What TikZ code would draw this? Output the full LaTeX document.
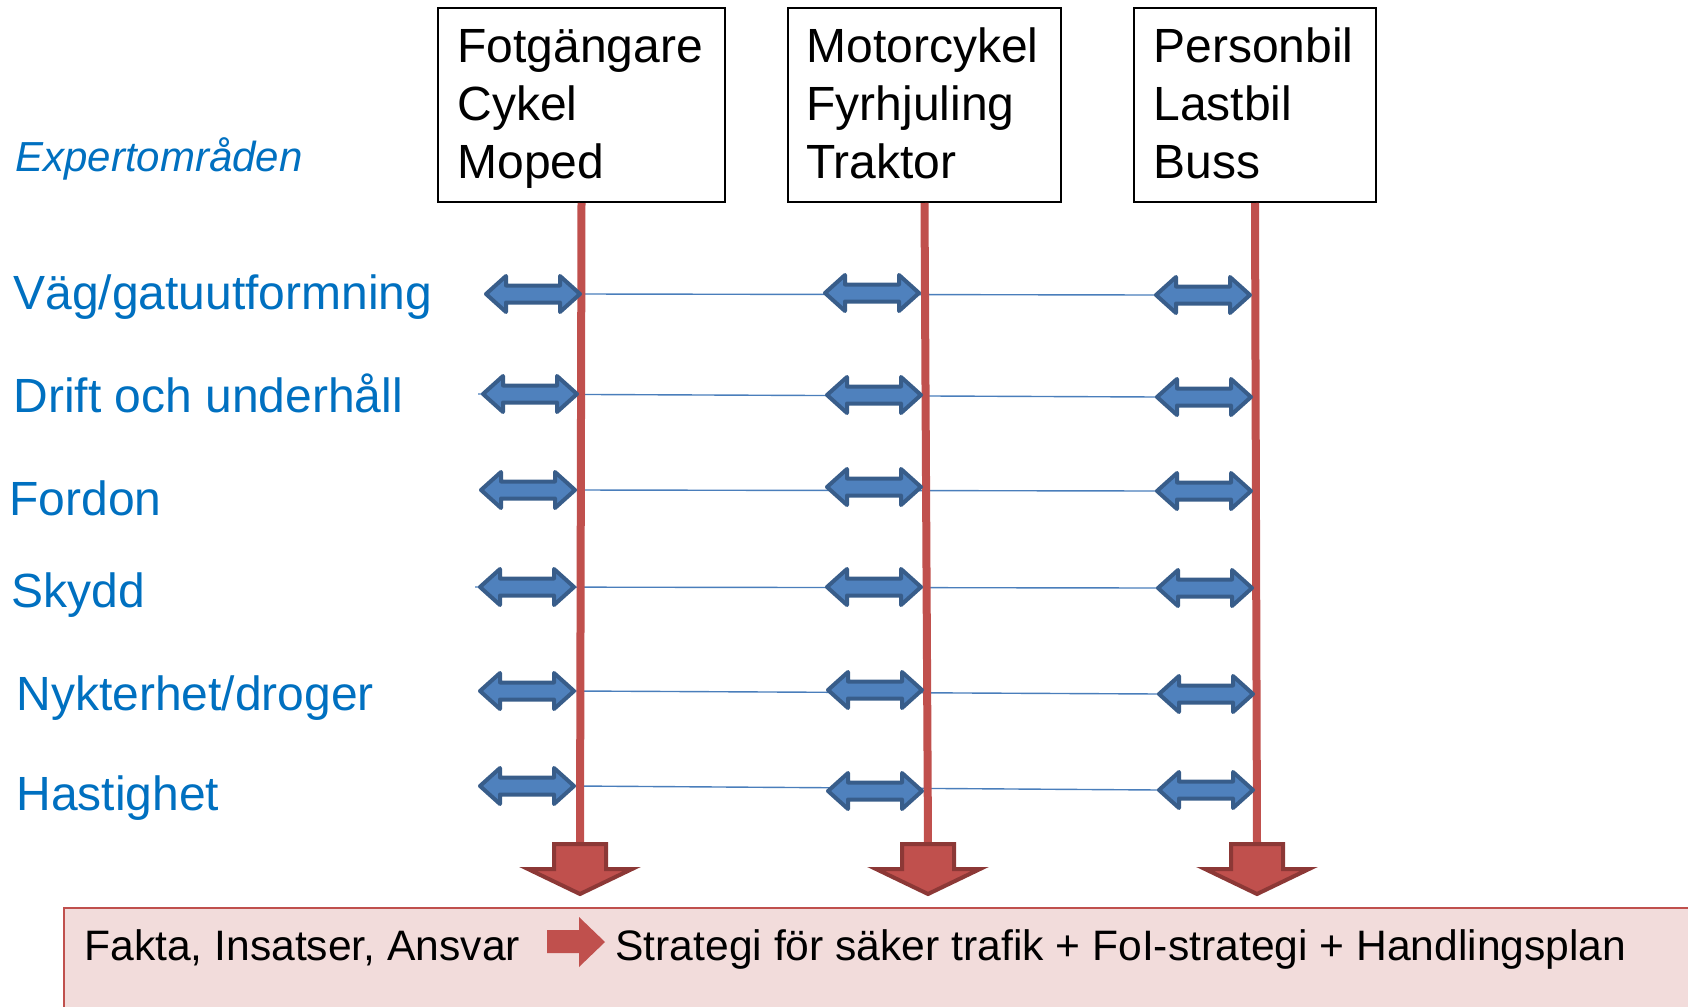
\documentclass[tikz,border=0pt]{standalone}
\usepackage{fontspec}
\setmainfont{Liberation Sans}
\usepackage{xcolor}
\usepackage{tikz}
\usetikzlibrary{
  calc
}
\definecolor{areablue}{HTML}{0070C0}
\definecolor{arrowblue}{HTML}{4F81BD}
\definecolor{arrowedge}{HTML}{385D8A}
\definecolor{lineblue}{HTML}{4A7EBB}
\definecolor{barred}{HTML}{C0504D}
\definecolor{baredge}{HTML}{8C3836}
\definecolor{factpink}{HTML}{F2DCDB}

\begin{document}
\begin{tikzpicture}[x=0.5pt,y=-0.5pt,
  area/.style={text=areablue,font=\fontsize{24}{28.8}\selectfont,inner sep=0pt,anchor=base west},
  groupbox/.style={draw=black,line width=1pt,fill=white,minimum height=97pt,anchor=north west,inner sep=0pt},
  grouptext/.style={align=left,font=\fontsize{24}{28.8}\selectfont,inner sep=0pt,anchor=base west},
  fact/.style={font=\fontsize{21.3}{25}\selectfont,inner sep=0pt,anchor=base west},
  rowline/.style={lineblue,line width=0.7pt},
  redbar/.style={barred,line width=4pt},
  dblarr/.pic={
    \draw[fill=arrowblue,draw=arrowedge,line width=2pt,line join=round]
      (-47,0) -- (-27,-18) -- (-27,-8.5) -- (27,-8.5) -- (27,-18) -- (47,0)
      -- (27,18) -- (27,8.5) -- (-27,8.5) -- (-27,18) -- cycle;
  },
  downarr/.pic={
    \draw[fill=barred,draw=baredge,line width=2pt,line join=miter]
      (-26,0) -- (26,0) -- (26,25) -- (52,25) -- (0,50) -- (-52,25) -- (-26,25) -- cycle;
  }]
  \useasboundingbox (0,0) rectangle (1688,1007);

  \node[groupbox,minimum width=143.5pt] (fot) at (437,7) {};
  \node[groupbox,minimum width=136.5pt] (mc) at (787,7) {};
  \node[groupbox,minimum width=121pt] (bil) at (1133,7) {};
  \node[grouptext] (fottxt) at ([shift={(20,171)}]fot.north west) {Fotgängare\\Cykel\\Moped};
  \node[grouptext] (mctxt) at ([shift={(19,171)}]mc.north west) {Motorcykel\\Fyrhjuling\\Traktor};
  \node[grouptext] (biltxt) at ([shift={(20,171)}]bil.north west) {Personbil\\Lastbil\\Buss};

  \node[area,font=\fontsize{21}{25}\selectfont\itshape] (expert) at (15,171) {Expertområden};
  \node[area] (vag) at (13,309) {Väg/gatuutformning};
  \node[area] (drift) at (13,412) {Drift och underhåll};
  \node[area] (fordon) at (9,515) {Fordon};
  \node[area] (skydd) at (11,607) {Skydd};
  \node[area] (nykt) at (16,710) {Nykterhet/droger};
  \node[area] (hast) at (16,810) {Hastighet};

  \foreach \r/\xa/\ya/\xb/\yb/\xc/\yc/\s in {
    1/533/294/872/293/1203/295/47,
    2/530/394/874/395/1204/397/-52,
    3/528/490/874/487/1204/491/47,
    4/527/587/874/587/1205/588/-52,
    5/527/691/875/690/1206/694/47,
    6/527/786/875/791/1206/790/47}
  {
    \coordinate (a\r1) at (\xa,\ya);
    \coordinate (a\r2) at (\xb,\yb);
    \coordinate (a\r3) at (\xc,\yc);
    \draw[rowline] ($(a\r1)+(\s,0)$) -- ($(a\r3)+(-47,0)$);
  }

  \coordinate (fotend) at (580,844);
  \coordinate (mcend) at (928,844);
  \coordinate (bilend) at (1257,844);
  \draw[redbar] (fot.south) -- (fotend);
  \draw[redbar] (mc.south) -- (mcend);
  \draw[redbar] (bil.south) -- (bilend);

  \foreach \r in {1,...,6}
  \foreach \c in {1,2,3}
  \pic at (a\r\c) {dblarr};

  \pic at (fotend) {downarr};
  \pic at (mcend) {downarr};
  \pic at (bilend) {downarr};

  \draw[fill=factpink,draw=barred,line width=1pt] (64,908) rectangle (1700,1020);
  \node[fact] (fakta) at (84,960) {Fakta, Insatser, Ansvar};
  \node[fact] (strat) at (615,960) {Strategi för säker trafik + FoI-strategi + Handlingsplan};
  \fill[barred] (547,930) -- (579,930) -- (579,917) -- (605,942) -- (579,967) -- (579,953) -- (547,953) -- cycle;
\end{tikzpicture}
\end{document}
